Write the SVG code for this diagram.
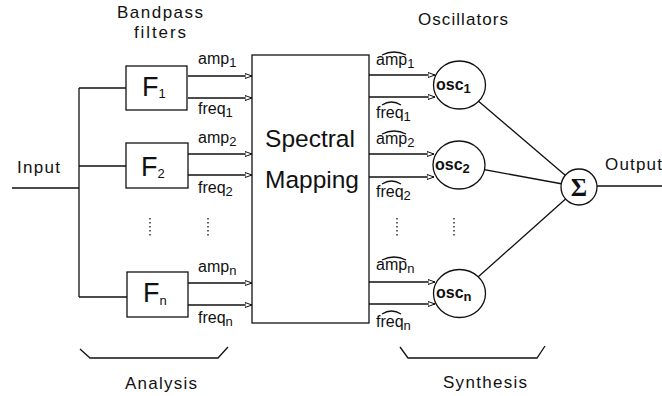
<svg xmlns="http://www.w3.org/2000/svg" width="662" height="396" viewBox="0 0 662 396">
  <style>
    .ln { fill: none; stroke: #111; stroke-width: 1.3; }
    .box { fill: #fff; stroke: #111; stroke-width: 1.3; }
    .dots { fill: none; stroke: #111; stroke-width: 1.3; stroke-dasharray: 1.4 2.6; }
    text { font-family: "Liberation Sans", Arial, sans-serif; fill: #111; }
    .title { font-size: 17px; text-anchor: middle; }
    .lab { font-size: 16px; }
    .sub { font-size: 13px; }
    .big { font-size: 27px; }
    .map { font-size: 24.5px; text-anchor: middle; }
    .osc { font-size: 16px; font-weight: bold; }
    .sig { font-family: "Liberation Serif", "Times New Roman", serif; font-size: 25px; font-weight: bold; text-anchor: middle; }
  </style>
  <defs>
    <marker id="arr" viewBox="0 0 8 6" refX="7.5" refY="3" markerWidth="8" markerHeight="6" markerUnits="userSpaceOnUse" orient="auto">
      <path d="M0.5,0.5 L7.5,3 L0.5,5.5 Z" fill="#fff" stroke="#111" stroke-width="1"/>
    </marker>
  </defs>

  <!-- headings -->
  <text class="title" x="160" y="18" textLength="86">Bandpass</text>
  <text class="title" x="160" y="38" textLength="52">filters</text>
  <text class="title" x="463" y="25" textLength="90">Oscillators</text>
  <text class="title" x="17" y="173" style="text-anchor:start" textLength="43">Input</text>
  <text class="title" x="605" y="170" style="text-anchor:start" textLength="57">Output</text>
  <text class="title" x="161" y="389" textLength="72">Analysis</text>
  <text class="title" x="485" y="388" textLength="84">Synthesis</text>

  <!-- connectors -->
  <g id="connectors">
    <!-- input bus -->
    <path class="ln" d="M12,188 H79 M79,88 V297 M79,88 H126 M79,166 H126 M79,297 H127"/>
    <!-- filter outputs into spectral mapping -->
    <path class="ln" marker-end="url(#arr)" d="M188,76 H252"/>
    <path class="ln" marker-end="url(#arr)" d="M188,98 H252"/>
    <path class="ln" marker-end="url(#arr)" d="M188,154 H252"/>
    <path class="ln" marker-end="url(#arr)" d="M188,175 H252"/>
    <path class="ln" marker-end="url(#arr)" d="M188,283 H252"/>
    <path class="ln" marker-end="url(#arr)" d="M188,305 H252"/>
    <!-- mapped parameters into oscillators -->
    <path class="ln" marker-end="url(#arr)" d="M369,75 H435"/>
    <path class="ln" marker-end="url(#arr)" d="M369,97 H435"/>
    <path class="ln" marker-end="url(#arr)" d="M369,154 H434"/>
    <path class="ln" marker-end="url(#arr)" d="M369,177 H434"/>
    <path class="ln" marker-end="url(#arr)" d="M369,282 H435"/>
    <path class="ln" marker-end="url(#arr)" d="M369,304 H435"/>
    <!-- oscillators to summing node -->
    <path class="ln" d="M459.5,85 L579,187 M459,165 L579,187 M459.5,293.5 L579,187"/>
    <!-- output -->
    <path class="ln" d="M597,186 H662"/>
    <!-- ellipsis dots -->
    <path class="dots" d="M150,218 V238 M208,218 V238 M397,218 V238 M454,218 V238"/>
    <!-- grouping braces -->
    <path class="ln" d="M80,349 L90,358 H218 L228,347"/>
    <path class="ln" d="M400,347 L408,358 H537 L545,346"/>
  </g>

  <!-- signal labels, analysis side -->
  <g id="analysis-labels">
    <text class="lab" x="198" y="64">amp<tspan class="sub" dy="3">1</tspan></text>
    <text class="lab" x="198" y="114">freq<tspan class="sub" dy="3">1</tspan></text>
    <text class="lab" x="198" y="143">amp<tspan class="sub" dy="3">2</tspan></text>
    <text class="lab" x="198" y="193">freq<tspan class="sub" dy="3">2</tspan></text>
    <text class="lab" x="198" y="272">amp<tspan class="sub" dy="3">n</tspan></text>
    <text class="lab" x="198" y="323">freq<tspan class="sub" dy="3">n</tspan></text>
  </g>

  <!-- signal labels, synthesis side (with hat accents) -->
  <g id="synthesis-labels">
    <text class="lab" x="376" y="65">amp<tspan class="sub" dy="3">1</tspan></text>
    <text class="lab" x="376" y="118">freq<tspan class="sub" dy="3">1</tspan></text>
    <text class="lab" x="376" y="144">amp<tspan class="sub" dy="3">2</tspan></text>
    <text class="lab" x="376" y="197">freq<tspan class="sub" dy="3">2</tspan></text>
    <text class="lab" x="376" y="270">amp<tspan class="sub" dy="3">n</tspan></text>
    <text class="lab" x="376" y="327">freq<tspan class="sub" dy="3">n</tspan></text>
    <path class="ln" stroke-width="1" d="M382,55 Q394,49 406,55 M382,105 Q391.5,99 401,105 M382,134 Q394,128 406,134 M382,184 Q391.5,178 401,184 M382,260 Q394,254 406,260 M382,314 Q391.5,308 401,314"/>
  </g>

  <g id="filter-1">
    <rect class="box" x="126" y="66" width="61" height="44"/>
    <text class="big" x="142" y="96">F<tspan class="sub" font-size="16" dy="2">1</tspan></text>
  </g>
  <g id="filter-2">
    <rect class="box" x="126" y="143" width="62" height="45"/>
    <text class="big" x="141" y="176">F<tspan class="sub" font-size="16" dy="2">2</tspan></text>
  </g>
  <g id="filter-n">
    <rect class="box" x="127" y="272" width="61" height="45"/>
    <text class="big" x="143" y="302">F<tspan class="sub" font-size="16" dy="3">n</tspan></text>
  </g>

  <g id="spectral-mapping">
    <rect class="box" x="252" y="55" width="117" height="268" fill="none"/>
    <text class="map" x="310" y="147">Spectral</text>
    <text class="map" x="312" y="188">Mapping</text>
  </g>

  <g id="osc-1">
    <ellipse class="box" cx="459.5" cy="85" rx="26" ry="24"/>
    <text class="osc" x="436" y="90">osc<tspan class="sub" dy="3">1</tspan></text>
  </g>
  <g id="osc-2">
    <ellipse class="box" cx="459" cy="165" rx="26" ry="24"/>
    <text class="osc" x="435" y="170">osc<tspan class="sub" dy="3">2</tspan></text>
  </g>
  <g id="osc-n">
    <ellipse class="box" cx="459.5" cy="293.5" rx="26" ry="24"/>
    <text class="osc" x="436" y="298">osc<tspan class="sub" dy="3">n</tspan></text>
  </g>

  <g id="sum">
    <circle class="box" cx="579" cy="187" r="18"/>
    <text class="sig" x="579" y="196">Σ</text>
  </g>
</svg>
